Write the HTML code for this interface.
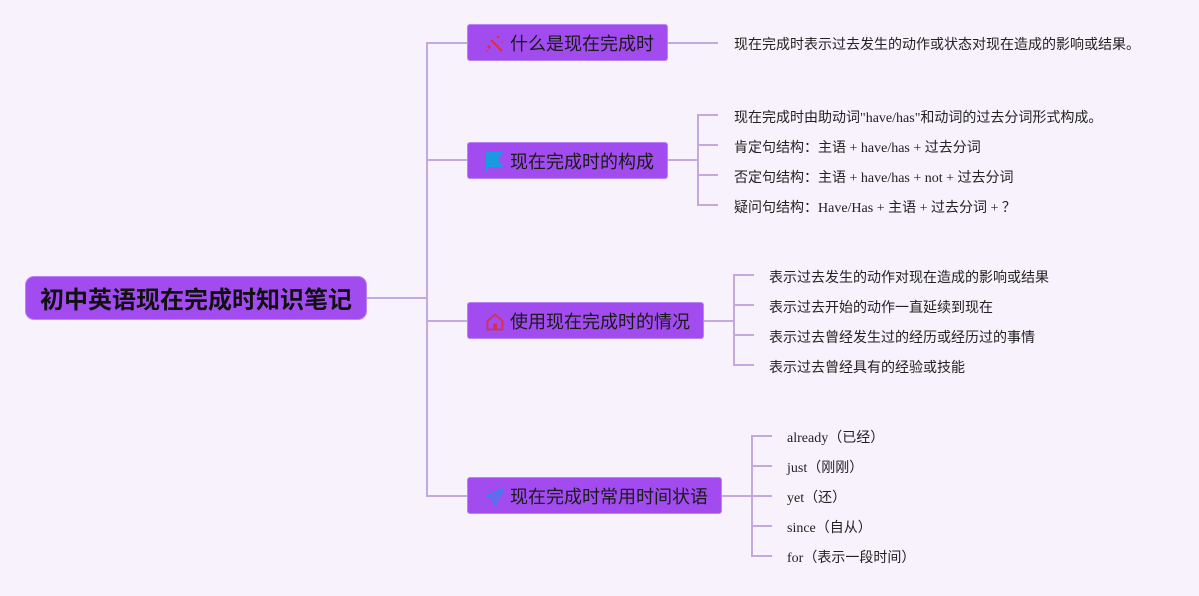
<!DOCTYPE html>
<html><head><meta charset="utf-8"><style>
html,body{margin:0;padding:0;}
body{width:1199px;height:596px;background:#f7f2fb;position:relative;overflow:hidden;}
.box{position:absolute;background:#a24cf0;border:1px solid #b784f4;box-sizing:border-box;border-radius:3px;}
.root{left:25px;top:276px;width:342px;height:44px;border-radius:9px;font-family:"Liberation Sans","Noto Sans CJK SC",sans-serif;font-weight:bold;font-size:24px;color:#111;line-height:47px;text-align:center;}
.br{height:37px;font-family:"Liberation Sans","Noto Sans CJK SC",sans-serif;font-size:18px;color:#1a1a1a;line-height:35px;}
.br span{position:absolute;left:42px;top:2px;white-space:nowrap;}
.br svg{position:absolute;left:17px;top:9px;}
.lf{position:absolute;font-family:"Liberation Serif","Noto Sans CJK SC",sans-serif;font-size:14px;color:#222;height:20px;line-height:20px;white-space:nowrap;}
svg.lines{position:absolute;left:0;top:0;}
</style></head><body>
<svg class="lines" width="1199" height="596" viewBox="0 0 1199 596">
<g stroke="#c4aadc" stroke-width="2" fill="none">
<line x1="367" y1="298" x2="427" y2="298"/>
<line x1="427" y1="42" x2="427" y2="497"/>
<line x1="426" y1="43" x2="467" y2="43"/>
<line x1="426" y1="160" x2="467" y2="160"/>
<line x1="426" y1="321" x2="467" y2="321"/>
<line x1="426" y1="496" x2="467" y2="496"/>
<line x1="668" y1="43" x2="718" y2="43"/>
<line x1="668" y1="160" x2="698" y2="160"/>
<line x1="698" y1="114" x2="698" y2="206"/>
<line x1="697" y1="115" x2="718" y2="115"/>
<line x1="697" y1="145" x2="718" y2="145"/>
<line x1="697" y1="175" x2="718" y2="175"/>
<line x1="697" y1="205" x2="718" y2="205"/>
<line x1="704" y1="321" x2="734" y2="321"/>
<line x1="734" y1="274" x2="734" y2="366"/>
<line x1="733" y1="275" x2="754" y2="275"/>
<line x1="733" y1="305" x2="754" y2="305"/>
<line x1="733" y1="335" x2="754" y2="335"/>
<line x1="733" y1="365" x2="754" y2="365"/>
<line x1="722" y1="496" x2="752" y2="496"/>
<line x1="752" y1="435" x2="752" y2="557"/>
<line x1="751" y1="436" x2="772" y2="436"/>
<line x1="751" y1="466" x2="772" y2="466"/>
<line x1="751" y1="496" x2="772" y2="496"/>
<line x1="751" y1="526" x2="772" y2="526"/>
<line x1="751" y1="556" x2="772" y2="556"/>
</g>
</svg>

<div class="box root">初中英语现在完成时知识笔记</div>

<div class="box br" style="left:467px;top:24px;width:201px;">
<svg width="20" height="20" viewBox="0 0 20 20"><g fill="#d8304a" stroke="#d8304a"><line x1="6" y1="6" x2="17" y2="17" stroke-width="2.2"/><circle cx="13" cy="3" r="1.3" stroke="none"/><circle cx="4" cy="13" r="1.6" stroke="none"/><circle cx="2" cy="17" r="0.9" stroke="none"/><circle cx="17" cy="8" r="0.9" stroke="none"/></g></svg>
<span>什么是现在完成时</span></div>

<div class="box br" style="left:467px;top:142px;width:201px;">
<svg width="20" height="20" viewBox="0 0 20 20"><path d="M1 0 H18 L13 7.5 L18 15 H3 V20 H1 Z" fill="#1a9ae0"/></svg>
<span>现在完成时的构成</span></div>

<div class="box br" style="left:467px;top:302px;width:237px;">
<svg width="20" height="20" viewBox="0 0 20 20"><path d="M2.5 9 L10 2.5 L17.5 9 V17.5 H2.5 Z" fill="none" stroke="#d8304a" stroke-width="1.8" stroke-linejoin="round"/><rect x="8" y="11.5" width="4" height="6" fill="#d8304a"/></svg>
<span>使用现在完成时的情况</span></div>

<div class="box br" style="left:467px;top:477px;width:255px;">
<svg width="20" height="20" viewBox="0 0 20 20"><path d="M18 2 L2 9 L8 11 L10 18 Z M18 2 L8 11" fill="none" stroke="#3d7ee8" stroke-width="2" stroke-linejoin="round"/></svg>
<span>现在完成时常用时间状语</span></div>

<div class="lf" style="left:734px;top:36px;">现在完成时表示过去发生的动作或状态对现在造成的影响或结果。</div>

<div class="lf" style="left:734px;top:109px;">现在完成时由助动词"have/has"和动词的过去分词形式构成。</div>
<div class="lf" style="left:734px;top:139px;">肯定句结构：主语 + have/has + 过去分词</div>
<div class="lf" style="left:734px;top:169px;">否定句结构：主语 + have/has + not + 过去分词</div>
<div class="lf" style="left:734px;top:199px;">疑问句结构：Have/Has + 主语 + 过去分词 + ？</div>

<div class="lf" style="left:769px;top:269px;">表示过去发生的动作对现在造成的影响或结果</div>
<div class="lf" style="left:769px;top:299px;">表示过去开始的动作一直延续到现在</div>
<div class="lf" style="left:769px;top:329px;">表示过去曾经发生过的经历或经历过的事情</div>
<div class="lf" style="left:769px;top:359px;">表示过去曾经具有的经验或技能</div>

<div class="lf" style="left:787px;top:429px;">already（已经）</div>
<div class="lf" style="left:787px;top:459px;">just（刚刚）</div>
<div class="lf" style="left:787px;top:489px;">yet（还）</div>
<div class="lf" style="left:787px;top:519px;">since（自从）</div>
<div class="lf" style="left:787px;top:549px;">for（表示一段时间）</div>
</body></html>
